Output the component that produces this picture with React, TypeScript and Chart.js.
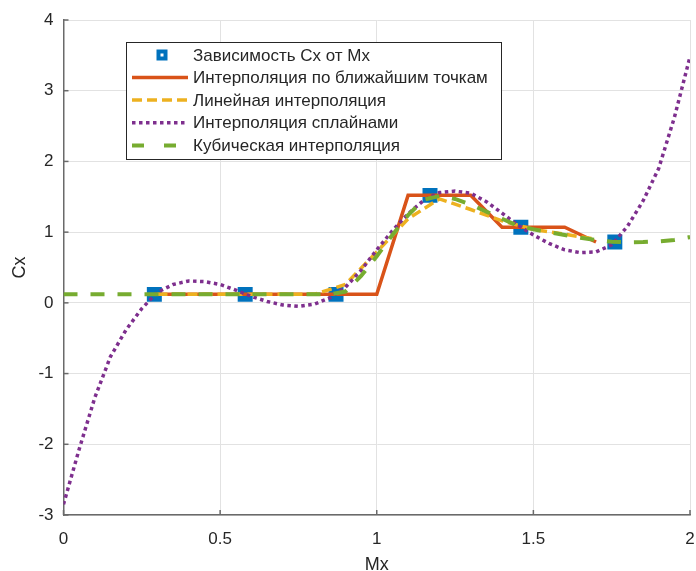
import React, { useEffect, useRef } from 'react';
import { Chart, registerables } from 'chart.js';

Chart.register(...registerables);

// ---- data ----
const dataX = [0.29, 0.58, 0.87, 1.17, 1.46, 1.76];
const dataY = [0.12, 0.12, 0.12, 1.52, 1.07, 0.86];

const coarseX = [0.3, 0.4, 0.5, 0.6, 0.7, 0.8, 0.9, 1.0, 1.1, 1.2, 1.3, 1.4, 1.5, 1.6, 1.7];
const nearestY = [0.12, 0.12, 0.12, 0.12, 0.12, 0.12, 0.12, 0.12, 1.52, 1.52, 1.52, 1.07, 1.07, 1.07, 0.86];
const linearY = [0.12, 0.12, 0.12, 0.12, 0.12, 0.12, 0.26, 0.72, 1.19, 1.47, 1.32, 1.16, 1.04, 0.97, 0.9];

const fineX = [
  0, 0.05, 0.1, 0.15, 0.2, 0.25, 0.3, 0.35, 0.4, 0.45, 0.5, 0.55, 0.6, 0.65, 0.7, 0.75, 0.8, 0.85,
  0.9, 0.95, 1.0, 1.05, 1.1, 1.15, 1.2, 1.25, 1.3, 1.35, 1.4, 1.45, 1.5, 1.55, 1.6, 1.65, 1.7, 1.75,
  1.8, 1.85, 1.9, 1.95, 2.0,
];
const splineY = [
  -2.85, -2.07, -1.34, -0.76, -0.38, -0.08, 0.15, 0.26, 0.31, 0.3, 0.26, 0.18, 0.09, 0.02, -0.03, -0.05, -0.02, 0.07,
  0.22, 0.46, 0.75, 1.02, 1.26, 1.45, 1.56, 1.58, 1.55, 1.43, 1.27, 1.1, 0.96, 0.84, 0.75, 0.71, 0.72, 0.82,
  1.08, 1.44, 1.9, 2.62, 3.48,
];
const cubicY = [
  0.12, 0.12, 0.12, 0.12, 0.12, 0.12, 0.12, 0.12, 0.12, 0.12, 0.12, 0.12, 0.12, 0.12, 0.12, 0.12, 0.12, 0.12,
  0.16, 0.38, 0.66, 0.96, 1.24, 1.46, 1.51, 1.47, 1.39, 1.29, 1.19, 1.09, 1.04, 1.0, 0.96, 0.92, 0.89, 0.865,
  0.855, 0.86, 0.87, 0.89, 0.93,
];

const seriesNames = [
  'Зависимость Сх от Мх',
  'Интерполяция по ближайшим точкам',
  'Линейная интерполяция',
  'Интерполяция сплайнами',
  'Кубическая интерполяция',
];

const xTickVals = [0, 0.5, 1, 1.5, 2];
const xTickLabels = ['0', '0.5', '1', '1.5', '2'];
const yTickVals = [-3, -2, -1, 0, 1, 2, 3, 4];
const yTickLabels = ['-3', '-2', '-1', '0', '1', '2', '3', '4'];
const xTitle = 'Mx';
const yTitle = 'Cx';

// ---- styles ----
const FONT = '"Liberation Sans", Arial, Helvetica, sans-serif';
const BLUE = '#0072BD';
const ORANGE = '#D95319';
const YELLOW = '#EDB120';
const PURPLE = '#7E2F8E';
const GREEN = '#77AC30';
const TEXT = '#262626';
const AXIS = '#6a6a6a';

const styles = [
  { color: BLUE, width: 0, dash: [] as number[], legendDash: [] as number[], marker: true },
  { color: ORANGE, width: 3.5, dash: [] as number[], legendDash: [] as number[], marker: false },
  { color: YELLOW, width: 3.5, dash: [10, 5], legendDash: [10, 5], marker: false },
  { color: PURPLE, width: 3.5, dash: [3.5, 3.5], legendDash: [3.5, 3.5], marker: false },
  { color: GREEN, width: 4, dash: [14, 13], legendDash: [12, 20], marker: false },
];

const pts = (xs: number[], ys: number[]) => xs.map((x, i) => ({ x, y: ys[i] }));

const labelFor = (vals: number[], labels: string[]) => (v: any) => {
  const i = vals.findIndex((t) => Math.abs(t - Number(v)) < 1e-9);
  return i >= 0 ? labels[i] : '';
};

export default function App() {
  const ref = useRef<HTMLCanvasElement>(null);

  useEffect(() => {
    const canvas = ref.current;
    if (!canvas) return;

    const overlay = {
      id: 'overlay',
      afterDraw(chart: any) {
        const ctx = chart.ctx as CanvasRenderingContext2D;
        const area = chart.chartArea;
        const xs = chart.scales.x;
        const ys = chart.scales.y;
        ctx.save();
        // inward ticks
        ctx.strokeStyle = AXIS;
        ctx.lineWidth = 1.5;
        ctx.setLineDash([]);
        xTickVals.forEach((v) => {
          const px = xs.getPixelForValue(v);
          ctx.beginPath();
          ctx.moveTo(px, area.bottom);
          ctx.lineTo(px, area.bottom - 5);
          ctx.stroke();
        });
        yTickVals.forEach((v) => {
          const py = ys.getPixelForValue(v);
          ctx.beginPath();
          ctx.moveTo(area.left, py);
          ctx.lineTo(area.left + 5, py);
          ctx.stroke();
        });

        // axis titles
        ctx.fillStyle = TEXT;
        ctx.font = `18px ${FONT}`;
        ctx.textAlign = 'center';
        ctx.textBaseline = 'alphabetic';
        ctx.fillText(xTitle, (area.left + area.right) / 2, 570);
        ctx.save();
        ctx.translate(25, (area.top + area.bottom) / 2);
        ctx.rotate(-Math.PI / 2);
        ctx.textBaseline = 'alphabetic';
        ctx.fillText(yTitle, 0, 0);
        ctx.restore();

        // legend
        const bx = 126, by = 42, bw = 375, bh = 117;
        ctx.fillStyle = '#ffffff';
        ctx.fillRect(bx, by, bw, bh);
        ctx.strokeStyle = TEXT;
        ctx.lineWidth = 1;
        ctx.strokeRect(bx + 0.5, by + 0.5, bw, bh);
        const rows = [55, 77.5, 100, 122.7, 145.5];
        ctx.font = `17px ${FONT}`;
        ctx.textAlign = 'left';
        ctx.textBaseline = 'middle';
        seriesNames.forEach((name, i) => {
          const st = styles[i];
          const y = rows[i];
          if (st.marker) {
            ctx.fillStyle = st.color;
            ctx.fillRect(156.5, y - 5.5, 11, 11);
            ctx.fillStyle = '#ffffff';
            ctx.fillRect(160.5, y - 1.5, 3, 3);
          } else {
            ctx.strokeStyle = st.color;
            ctx.lineWidth = st.width;
            ctx.setLineDash(st.legendDash);
            ctx.beginPath();
            ctx.moveTo(132, y);
            ctx.lineTo(188, y);
            ctx.stroke();
            ctx.setLineDash([]);
          }
          ctx.fillStyle = TEXT;
          ctx.fillText(name, 193, y + 1);
        });
        ctx.restore();
      },
    };

    const chart = new Chart(canvas, {
      type: 'scatter',
      data: {
        datasets: [
          {
            label: seriesNames[4],
            data: pts(fineX, cubicY),
            showLine: true,
            borderColor: GREEN,
            borderWidth: styles[4].width,
            borderDash: styles[4].dash,
            pointRadius: 0,
            order: 1,
          },
          {
            label: seriesNames[3],
            data: pts(fineX, splineY),
            showLine: true,
            borderColor: PURPLE,
            borderWidth: styles[3].width,
            borderDash: styles[3].dash,
            pointRadius: 0,
            order: 2,
          },
          {
            label: seriesNames[2],
            data: pts(coarseX, linearY),
            showLine: true,
            borderColor: YELLOW,
            borderWidth: styles[2].width,
            borderDash: styles[2].dash,
            pointRadius: 0,
            order: 3,
          },
          {
            label: seriesNames[1],
            data: pts(coarseX, nearestY),
            showLine: true,
            borderColor: ORANGE,
            borderWidth: styles[1].width,
            pointRadius: 0,
            order: 4,
          },
          {
            label: seriesNames[0],
            data: pts(dataX, dataY),
            showLine: false,
            pointStyle: 'rect',
            pointRadius: 10.6,
            backgroundColor: BLUE,
            borderColor: BLUE,
            borderWidth: 0,
            order: 5,
          },
        ],
      } as any,
      options: {
        responsive: false,
        animation: false,
        events: [],
        layout: { autoPadding: false, padding: { top: 20, right: 6, left: 0, bottom: 0 } },
        plugins: { legend: { display: false }, tooltip: { enabled: false } },
        scales: {
          x: {
            type: 'linear',
            min: 0,
            max: 2,
            afterFit: (s: any) => {
              s.height = 56;
              s.paddingLeft = 0;
              s.paddingRight = 0;
            },
            ticks: {
              stepSize: 0.5,
              padding: 0,
              color: TEXT,
              font: { family: FONT, size: 17 },
              callback: labelFor(xTickVals, xTickLabels),
              maxRotation: 0,
            },
            grid: {
              color: '#e2e2e2',
              lineWidth: 1,
              drawTicks: true,
              tickLength: 14,
              tickColor: 'rgba(0,0,0,0)',
            },
            border: { display: true, color: AXIS, width: 1.5 },
          },
          y: {
            type: 'linear',
            min: -3,
            max: 4,
            afterFit: (s: any) => {
              s.width = 63.5;
              s.paddingTop = 0;
              s.paddingBottom = 0;
            },
            ticks: {
              stepSize: 1,
              padding: 10,
              color: TEXT,
              font: { family: FONT, size: 17 },
              callback: labelFor(yTickVals, yTickLabels),
            },
            grid: { color: '#e2e2e2', lineWidth: 1, drawTicks: false },
            border: { display: true, color: AXIS, width: 1.5 },
          },
        },
      } as any,
      plugins: [overlay],
    });

    return () => chart.destroy();
  }, []);

  return (
    <div style={{ position: 'fixed', left: 0, top: 0, width: 696, height: 571, background: '#fff' }}>
      <canvas ref={ref} width={696} height={571} style={{ display: 'block' }} />
    </div>
  );
}
